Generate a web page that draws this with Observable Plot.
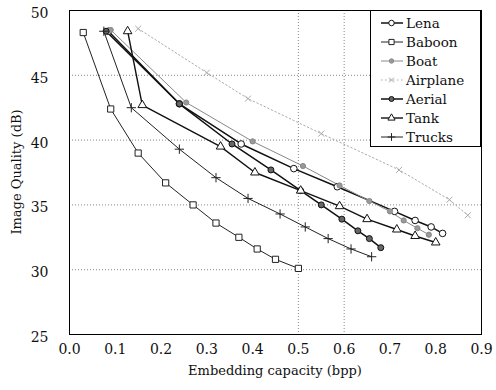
<!DOCTYPE html>
<html><head><meta charset="utf-8">
<script src="https://cdn.jsdelivr.net/npm/d3@7"></script>
<script src="https://cdn.jsdelivr.net/npm/@observablehq/plot@0.6"></script>
<style>body{margin:0;background:#fff}#chart{width:496px;height:390px}</style>
</head><body><div id="chart"></div>
<script>
// Data: [embedding capacity (bpp), image quality (dB)]
const seriesNames = ["Lena","Baboon","Boat","Airplane","Aerial","Tank","Trucks"];
const lena = [[0.085,48.4],[0.24,42.8],[0.375,39.7],[0.49,37.8],[0.585,36.4],[0.71,34.5],[0.755,33.8],[0.79,33.3],[0.815,32.8]];
const baboon = [[0.03,48.3],[0.09,42.4],[0.15,39.0],[0.21,36.7],[0.27,35.0],[0.32,33.6],[0.37,32.5],[0.41,31.6],[0.45,30.8],[0.50,30.1]];
const boat = [[0.09,48.5],[0.255,42.9],[0.40,39.9],[0.51,38.0],[0.59,36.5],[0.655,35.3],[0.70,34.5],[0.73,33.8],[0.76,33.2],[0.785,32.7]];
const airplane = [[0.15,48.6],[0.30,45.2],[0.39,43.2],[0.55,40.5],[0.72,37.7],[0.83,35.4],[0.87,34.2]];
const aerial = [[0.08,48.4],[0.24,42.8],[0.355,39.7],[0.44,37.7],[0.505,36.1],[0.55,35.0],[0.595,33.9],[0.63,33.0],[0.655,32.4],[0.68,31.7]];
const tank = [[0.127,48.4],[0.159,42.7],[0.33,39.5],[0.405,37.5],[0.505,36.1],[0.59,34.9],[0.65,33.9],[0.715,33.1],[0.755,32.6],[0.80,32.1]];
const trucks = [[0.075,48.4],[0.135,42.5],[0.24,39.3],[0.32,37.1],[0.39,35.5],[0.46,34.3],[0.515,33.3],[0.565,32.4],[0.615,31.6],[0.66,31.0]];
const xTicks = [0,0.1,0.2,0.3,0.4,0.5,0.6,0.7,0.8,0.9];
const yTicks = [25,30,35,40,45,50];
const xGrid = [0.5,0.6];
const yGrid = [30,35,40,45];
const xTitle = "Embedding capacity (bpp)";
const yTitle = "Image Quality (dB)";

const seriesData = {Lena: lena, Baboon: baboon, Boat: boat, Airplane: airplane, Aerial: aerial, Tank: tank, Trucks: trucks};
const styles = {
  Lena:     {stroke:"#111", sw:1.5, dash:null,  symbol:"circle",   fill:"#fff", mstroke:"#111", r:3.3},
  Baboon:   {stroke:"#222", sw:1.0, dash:null,  symbol:"square",   fill:"#fff", mstroke:"#222", r:3.5},
  Boat:     {stroke:"#888", sw:1.0, dash:null,  symbol:"circle",   fill:"#999", mstroke:"#888", r:2.6},
  Airplane: {stroke:"#aaa", sw:1.0, dash:"1.5,2.5", symbol:"times", fill:"none", mstroke:"#aaa", r:2.8},
  Aerial:   {stroke:"#111", sw:1.5, dash:null,  symbol:"circle",   fill:"#666", mstroke:"#111", r:3},
  Tank:     {stroke:"#111", sw:1.4, dash:null,  symbol:"triangle", fill:"#fff", mstroke:"#111", r:3.2},
  Trucks:   {stroke:"#222", sw:1.0, dash:null,  symbol:"plus",     fill:"none", mstroke:"#222", r:3.1}
};

const font = "DejaVu Serif";
const marks = [
  Plot.ruleY(yGrid, {stroke:"#888", strokeDasharray:"1,2"}),
  Plot.ruleX(xGrid, {stroke:"#888", strokeDasharray:"1,2"})
];
for (const name of seriesNames) {
  const s = styles[name];
  const rows = seriesData[name].map(([x,y]) => ({x, y}));
  marks.push(Plot.line(rows, {x:"x", y:"y", stroke:s.stroke, strokeWidth:s.sw, strokeDasharray:s.dash}));
}
for (const name of seriesNames) {
  const s = styles[name];
  const rows = seriesData[name].map(([x,y]) => ({x, y}));
  marks.push(Plot.dot(rows, {x:"x", y:"y", symbol:()=>s.symbol, r:s.r, fill:s.fill, stroke:s.mstroke, strokeWidth:1}));
}
marks.push(Plot.frame({stroke:"#000", strokeWidth:1}));
marks.push(Plot.axisX({ticks:xTicks, tickFormat:d3.format(".1f"), tickSize:0, tickPadding:10, label:null, fontSize:14}));
marks.push(Plot.axisY({ticks:yTicks, tickSize:0, tickPadding:21, label:null, dy:3, fontSize:14}));

const svg = Plot.plot({
  width:496, height:390,
  marginLeft:69, marginRight:15, marginTop:10, marginBottom:56,
  x:{domain:[0,0.9]},
  y:{domain:[25,50]},
  symbol:{type:"identity"},
  style:{fontFamily:font, fontSize:"13px", color:"#111", background:"#fff"},
  marks
});
document.getElementById("chart").appendChild(svg);

const g = d3.select(svg);
g.append("text").attr("x", 275).attr("y", 375).attr("text-anchor","middle")
  .attr("font-family", font).attr("font-size", 13).attr("fill","#111").text(xTitle);
g.append("text").attr("transform","translate(21,172) rotate(-90)").attr("text-anchor","middle")
  .attr("font-family", font).attr("font-size", 13).attr("fill","#111").text(yTitle);

// Legend
const lg = g.append("g");
lg.append("rect").attr("x",370.5).attr("y",10.5).attr("width",110).attr("height",136)
  .attr("fill","#fff").attr("stroke","#000");
const symMap = {circle:d3.symbolCircle, square:d3.symbolSquare, triangle:d3.symbolTriangle, plus:d3.symbolPlus, times:d3.symbolTimes};
seriesNames.forEach((name, i) => {
  const s = styles[name];
  const y = 23 + i * 19;
  lg.append("line").attr("x1",381).attr("x2",403).attr("y1",y).attr("y2",y)
    .attr("stroke",s.stroke).attr("stroke-width",s.sw).attr("stroke-dasharray",s.dash);
  lg.append("path").attr("transform",`translate(391.5,${y})`)
    .attr("d", d3.symbol(symMap[s.symbol], Math.PI*s.r*s.r*0.7)())
    .attr("fill",s.fill).attr("stroke",s.mstroke).attr("stroke-width",1);
  lg.append("text").attr("x",406).attr("y",y).attr("dy","0.35em").attr("text-anchor","start")
    .attr("font-family",font).attr("font-size",13.5).attr("fill","#111").text(name);
});
</script></body></html>
